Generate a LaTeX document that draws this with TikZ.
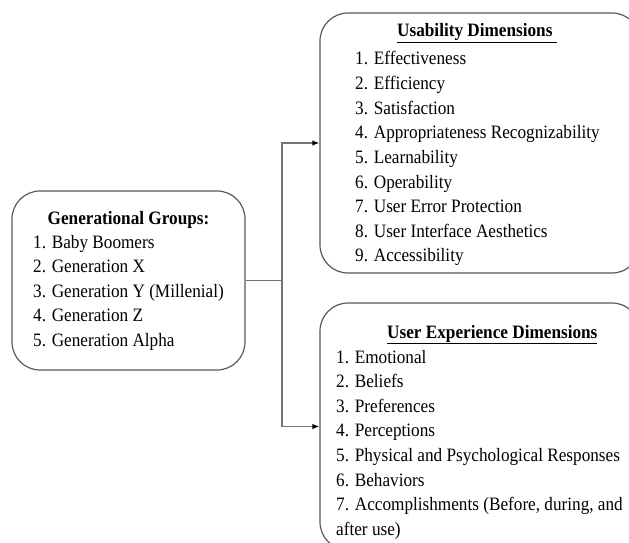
\documentclass[tikz,border=0pt]{standalone}
\usepackage{fontspec}
\setmainfont{Liberation Serif}
\usetikzlibrary{arrows.meta}
\tikzset{
  box/.style={draw=black!65, line width=1.2pt, rounded corners=28pt, fill=white},
  item/.style={anchor=base west, inner sep=0pt, yscale=1.1, font=\fontsize{17.2}{20}\selectfont},
  head/.style={item, font=\fontsize{17.2}{20}\selectfont\bfseries},
  link/.style={draw=black!55, line width=1.4pt},
  tip/.style={-{Latex[black,length=7pt,width=5.5pt]}},
}
\begin{document}
\begin{tikzpicture}[x=1pt,y=-1pt]
  \clip (0,0) rectangle (629,543);
  % boxes
  \node[box, minimum width=233pt, minimum height=179pt] (gen) at (128.5,280.5) {};
  \node[box, minimum width=320pt, minimum height=260pt] (ub) at (480,143) {};
  \node[box, minimum width=320pt, minimum height=247pt] (ux) at (480,426.5) {};
  % connectors
  \coordinate (split) at (282,280.5);
  \draw[link] (gen.east) -- (split);
  \draw[link,tip] (split) |- (ub.west);
  \draw[link,tip] (split) |- (ux.west);
  % generational groups
  \node[head, anchor=base] (gentitle) at (128.5,224) {Generational Groups:};
  \foreach \t [count=\i] in {Baby Boomers, Generation X, Generation Y (Millenial),
      Generation Z, Generation Alpha}
    \node[item] (gen\i) at (33,{223.4+24.6*\i}) {\i. \t};
  % usability
  \node[head] (ubtitle) at (397,37) {\underline{Usability Dimensions\ }};
  \foreach \t [count=\i] in {Effectiveness, Efficiency, Satisfaction,
      Appropriateness Recognizability, Learnability, Operability,
      User Error Protection, User Interface Aesthetics, Accessibility}
    \node[item] (ub\i) at (355,{40.4+24.6*\i}) {\i. \t};
  % user experience
  \node[head] (uxtitle) at (387,338) {\underline{User Experience Dimensions}};
  \foreach \t [count=\i] in {Emotional, Beliefs, Preferences, Perceptions,
      Physical and Psychological Responses, Behaviors,
      {Accomplishments (Before, during, and}}
    \node[item] (ux\i) at (336,{338.4+24.6*\i}) {\i. \t};
  \node[item] (uxwrap) at (336,535.2) {after use)};
\end{tikzpicture}
\end{document}
